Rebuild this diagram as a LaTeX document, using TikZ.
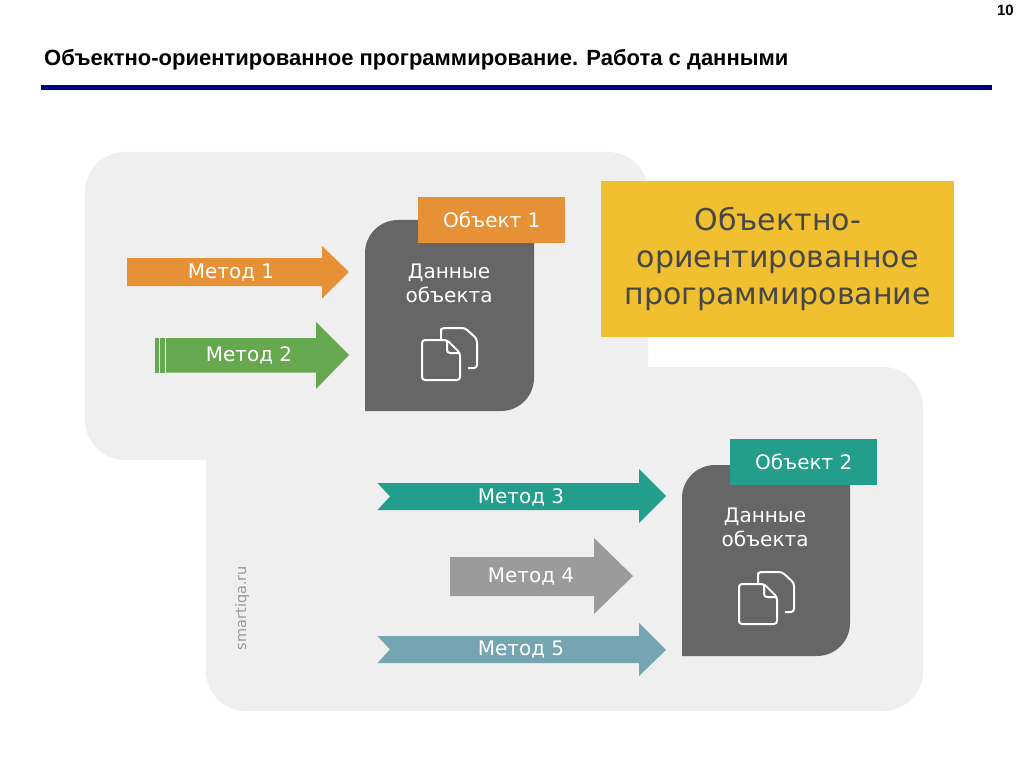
\documentclass[tikz,border=0pt]{standalone}
\usepackage{fontspec}
\setmainfont{Liberation Sans}
\newfontfamily\vfont{DejaVu Sans}
\definecolor{bgblob}{HTML}{EFEFEF}
\definecolor{cardgray}{HTML}{666666}
\definecolor{orangeA}{HTML}{E79136}
\definecolor{greenA}{HTML}{66A84F}
\definecolor{tealA}{HTML}{249E8C}
\definecolor{grayA}{HTML}{9B9B9B}
\definecolor{blueA}{HTML}{76A5B2}
\definecolor{yellowA}{HTML}{F0C030}
\definecolor{navyA}{HTML}{00007F}
\tikzset{
 x=1pt,y=-1pt,
 lbl/.style={text=white,font=\vfont\fontsize{20}{24}\selectfont,inner sep=0pt},
 tagbox/.style={fill=orangeA,minimum width=147pt,minimum height=46pt,inner sep=0pt,text=white,font=\vfont\fontsize{20}{24}\selectfont},
 doc/.style={draw=white,line width=2pt,rounded corners=3pt,line join=round}
}
\newcommand{\docicon}[2]{%
 \begin{scope}[shift={(#1,#2)}]
  \draw[doc] (0,13) -- (0,4) -- (0,0) -- (24,0) -- (36,11) -- (36,40) -- (27,40);
  \draw[doc,fill=cardgray] (-19,12) -- (6,12) -- (19,25) -- (19,52) -- (-19,52) -- cycle;
  \draw[doc] (6,12) -- (6,25) -- (19,25);
 \end{scope}}
\begin{document}
\begin{tikzpicture}
\useasboundingbox (0,0) rectangle (1024,767);
\fill[white] (0,0) rectangle (1024,767);
\node[inner sep=0pt,font=\bfseries\fontsize{15}{18}\selectfont,anchor=north east] (pnum) at (1014,5) {10};
\node[inner sep=0pt,anchor=west,font=\bfseries\fontsize{22}{26}\selectfont] (title) at (44,60) {Объектно-ориентированное программирование. Работа с данными};
\fill[navyA] (41,85.5) rectangle (992,90);
% background
\fill[bgblob,rounded corners=40pt] (85,152) rectangle (648,460);
\fill[bgblob] (560,300) rectangle (648,400);
\fill[bgblob] (206,380) rectangle (300,480);
\fill[bgblob,rounded corners=40pt] (206,367) rectangle (923,711);
% yellow
\node[fill=yellowA,minimum width=353pt,minimum height=156pt,inner sep=0pt,anchor=north west,align=center,text=black!72,font=\vfont\fontsize{30}{37}\selectfont] (oop) at (601,181) {Объектно-\\ориентированное\\программирование};
% cards
\path[fill=cardgray] (365,411) -- (365,253) arc[start angle=180,end angle=270,radius=33] -- (534,220) -- (534,378) arc[start angle=0,end angle=90,radius=33] -- cycle;
\node[tagbox,anchor=north west] (obj1) at (418,197) {Объект 1};
\node[lbl,align=center] (d1) at (449,283) {Данные\\объекта};
\docicon{441}{328}
\path[fill=cardgray] (682,656) -- (682,498) arc[start angle=180,end angle=270,radius=33] -- (850,465) -- (850,623) arc[start angle=0,end angle=90,radius=33] -- cycle;
\node[tagbox,fill=tealA,anchor=north west] (obj2) at (730,439) {Объект 2};
\node[lbl,align=center] (d2) at (765,527) {Данные\\объекта};
\docicon{758}{572}
% arrows
\fill[orangeA] (127,258) -- (322,258) -- (322,246) -- (349,272) -- (322,298.5) -- (322,286) -- (127,286) -- cycle;
\node[lbl] (m1) at (231,273) {Метод 1};
\fill[greenA] (166,338) -- (316,338) -- (316,322) -- (349,355) -- (316,389) -- (316,372.5) -- (166,372.5) -- cycle;
\fill[greenA] (155,338) rectangle (158.5,372.5);
\fill[greenA] (160,338) rectangle (164.5,372.5);
\node[lbl] (m2) at (249,355) {Метод 2};
\fill[tealA] (377.5,483) -- (639,483) -- (639,469) -- (666,496) -- (639,523) -- (639,510) -- (377.5,510) -- (390,496.5) -- cycle;
\node[lbl] (m3) at (521,497) {Метод 3};
\fill[grayA] (450,557) -- (594,557) -- (594,538) -- (633,576) -- (594,614) -- (594,596) -- (450,596) -- cycle;
\node[lbl] (m4) at (531,577) {Метод 4};
\fill[blueA] (377.5,636) -- (639,636) -- (639,623) -- (666,650) -- (639,676) -- (639,663) -- (377.5,663) -- (390,649.5) -- cycle;
\node[lbl] (m5) at (521,650) {Метод 5};
\node[rotate=90,inner sep=0pt,text=black!40,font=\vfont\fontsize{14.5}{17}\selectfont] (wm) at (242,608) {smartiqa.ru};
\end{tikzpicture}
\end{document}
